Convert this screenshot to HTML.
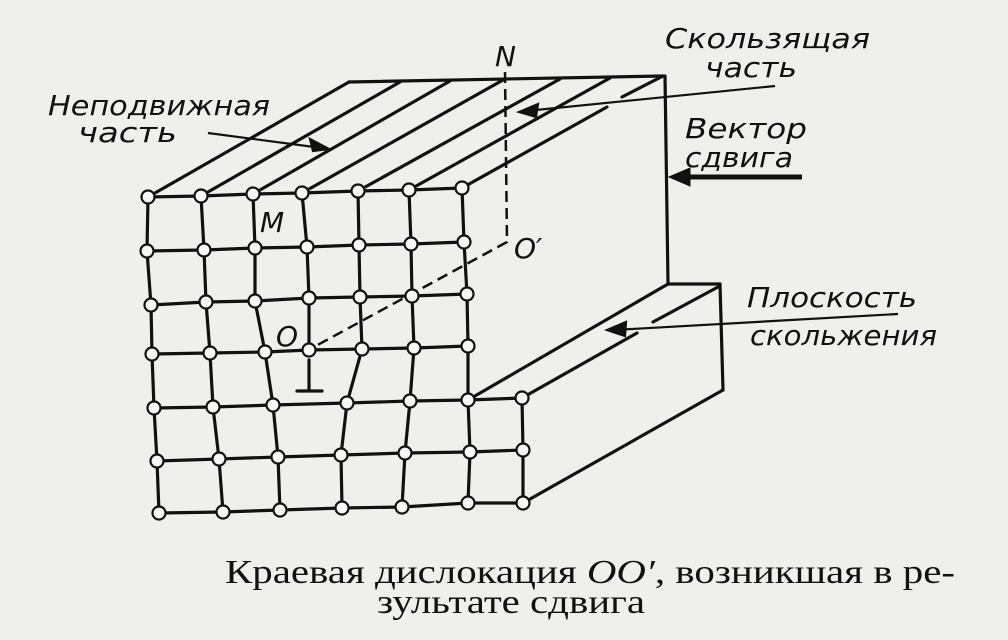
<!DOCTYPE html>
<html><head><meta charset="utf-8"><style>
html,body{margin:0;padding:0;background:#efefec;}
svg{display:block}
.it{font-family:"DejaVu Sans","Liberation Sans",sans-serif;font-style:oblique;font-size:28px;fill:#111}
</style></head><body>
<svg width="1008" height="640" viewBox="0 0 1008 640" xmlns="http://www.w3.org/2000/svg">
<rect width="1008" height="640" fill="#efefec"/>
<g stroke="#111" stroke-width="3.2" fill="none" stroke-linecap="round">
<line x1="349" y1="82" x2="663" y2="76"/>
<line x1="148" y1="197" x2="349" y2="82"/>
<line x1="201" y1="196" x2="400" y2="82"/>
<line x1="253" y1="194" x2="450" y2="81"/>
<line x1="302" y1="193" x2="503" y2="80"/>
<line x1="358" y1="191" x2="560" y2="79"/>
<line x1="409" y1="190" x2="610" y2="78"/>
<line x1="462" y1="188" x2="607" y2="107"/>
<line x1="622" y1="97" x2="663" y2="76"/>
<line x1="665" y1="76" x2="668" y2="284"/>
<line x1="668" y1="284" x2="720" y2="284"/>
<line x1="720" y1="284" x2="723" y2="390"/>
<line x1="723" y1="390" x2="523" y2="503"/>
<line x1="468" y1="400" x2="668" y2="284"/>
<line x1="522" y1="398" x2="637" y2="333"/>
<line x1="653" y1="322" x2="718" y2="287"/>
<polyline points="148,197 147,251 151,305 152,354 154,408 157,461 159,513"/>
<polyline points="201,196 204,250 206,302 210,353 213,407 219,459 223,512"/>
<polyline points="253,194 255,248 255,301 265,352 273,405 278,457 280,510"/>
<polyline points="302,193 307,247 309,298 309,350"/>
<polyline points="358,191 359,245 360,297 362,349 347,403 341,455 342,508"/>
<polyline points="409,190 411,244 412,296 414,348 410,401 405,453 402,507"/>
<polyline points="462,188 464,242 467,294 468,346 468,400 470,452 468,503"/>
<polyline points="522,398 523,450 523,503"/>
<polyline points="148,197 201,196 253,194 302,193 358,191 409,190 462,188"/>
<polyline points="147,251 204,250 255,248 307,247 359,245 411,244 464,242"/>
<polyline points="151,305 206,302 255,301 309,298 360,297 412,296 467,294"/>
<polyline points="152,354 210,353 265,352 309,350 362,349 414,348 468,346"/>
<polyline points="154,408 213,407 273,405 347,403 410,401 468,400 522,398"/>
<polyline points="157,461 219,459 278,457 341,455 405,453 470,452 523,450"/>
<polyline points="159,513 223,512 280,510 342,508 402,507 468,503 523,503"/>
<line x1="309" y1="360" x2="309" y2="390"/>
<line x1="297" y1="391" x2="322" y2="391"/>
</g>
<g stroke="#111" stroke-width="2.5" fill="none" stroke-dasharray="11,6">
<polyline points="505,72 507,242 312,348"/>
</g>
<g fill="#f6f6f4" stroke="#111" stroke-width="2.2">
<circle cx="148" cy="197" r="6.5"/><circle cx="201" cy="196" r="6.5"/><circle cx="253" cy="194" r="6.5"/><circle cx="302" cy="193" r="6.5"/><circle cx="358" cy="191" r="6.5"/><circle cx="409" cy="190" r="6.5"/><circle cx="462" cy="188" r="6.5"/>
<circle cx="147" cy="251" r="6.5"/><circle cx="204" cy="250" r="6.5"/><circle cx="255" cy="248" r="6.5"/><circle cx="307" cy="247" r="6.5"/><circle cx="359" cy="245" r="6.5"/><circle cx="411" cy="244" r="6.5"/><circle cx="464" cy="242" r="6.5"/>
<circle cx="151" cy="305" r="6.5"/><circle cx="206" cy="302" r="6.5"/><circle cx="255" cy="301" r="6.5"/><circle cx="309" cy="298" r="6.5"/><circle cx="360" cy="297" r="6.5"/><circle cx="412" cy="296" r="6.5"/><circle cx="467" cy="294" r="6.5"/>
<circle cx="152" cy="354" r="6.5"/><circle cx="210" cy="353" r="6.5"/><circle cx="265" cy="352" r="6.5"/><circle cx="309" cy="350" r="6.5"/><circle cx="362" cy="349" r="6.5"/><circle cx="414" cy="348" r="6.5"/><circle cx="468" cy="346" r="6.5"/>
<circle cx="154" cy="408" r="6.5"/><circle cx="213" cy="407" r="6.5"/><circle cx="273" cy="405" r="6.5"/><circle cx="347" cy="403" r="6.5"/><circle cx="410" cy="401" r="6.5"/><circle cx="468" cy="400" r="6.5"/><circle cx="522" cy="398" r="6.5"/>
<circle cx="157" cy="461" r="6.5"/><circle cx="219" cy="459" r="6.5"/><circle cx="278" cy="457" r="6.5"/><circle cx="341" cy="455" r="6.5"/><circle cx="405" cy="453" r="6.5"/><circle cx="470" cy="452" r="6.5"/><circle cx="523" cy="450" r="6.5"/>
<circle cx="159" cy="513" r="6.5"/><circle cx="223" cy="512" r="6.5"/><circle cx="280" cy="510" r="6.5"/><circle cx="342" cy="508" r="6.5"/><circle cx="402" cy="507" r="6.5"/><circle cx="468" cy="503" r="6.5"/><circle cx="523" cy="503" r="6.5"/>
</g>
<g stroke="#111" stroke-width="2.2" fill="#111">
<line x1="208" y1="133" x2="322" y2="148"/>
<polygon points="329,149 310,139 313,151"/>
<line x1="775" y1="86" x2="526" y2="111"/>
<polygon points="519,112 538,104 536,117"/>
<line x1="898" y1="314" x2="614" y2="330"/>
<polygon points="607,330 626,322 625,336"/>
<line x1="802" y1="177" x2="680" y2="177" stroke-width="5"/>
<polygon points="669,177 690,168 690,186" stroke-width="1"/>
</g>
<text class="it" x="48" y="115" textLength="222" lengthAdjust="spacingAndGlyphs">Неподвижная</text>
<text class="it" x="78" y="142" textLength="99" lengthAdjust="spacingAndGlyphs">часть</text>
<text class="it" x="665" y="48" textLength="205" lengthAdjust="spacingAndGlyphs">Скользящая</text>
<text class="it" x="705" y="77" textLength="92" lengthAdjust="spacingAndGlyphs">часть</text>
<text class="it" x="685" y="138" textLength="122" lengthAdjust="spacingAndGlyphs">Вектор</text>
<text class="it" x="685" y="167" textLength="108" lengthAdjust="spacingAndGlyphs">сдвига</text>
<text class="it" x="747" y="307" textLength="170" lengthAdjust="spacingAndGlyphs">Плоскость</text>
<text class="it" x="750" y="345" textLength="187" lengthAdjust="spacingAndGlyphs">скольжения</text>
<text class="it" x="495" y="66" font-size="24">N</text>
<text class="it" x="260" y="232" font-size="24">M</text>
<text class="it" x="276" y="346" font-size="24">O</text>
<text class="it" x="514" y="258" font-size="26">O′</text>
<text x="225" y="583" font-family="'Liberation Serif',serif" font-size="34" fill="#111" textLength="730" lengthAdjust="spacingAndGlyphs">Краевая дислокация <tspan font-style="italic">OO′</tspan>, возникшая в ре-</text>
<text x="377" y="613" font-family="'Liberation Serif',serif" font-size="34" fill="#111" textLength="268" lengthAdjust="spacingAndGlyphs">зультате сдвига</text>
</svg>
</body></html>
